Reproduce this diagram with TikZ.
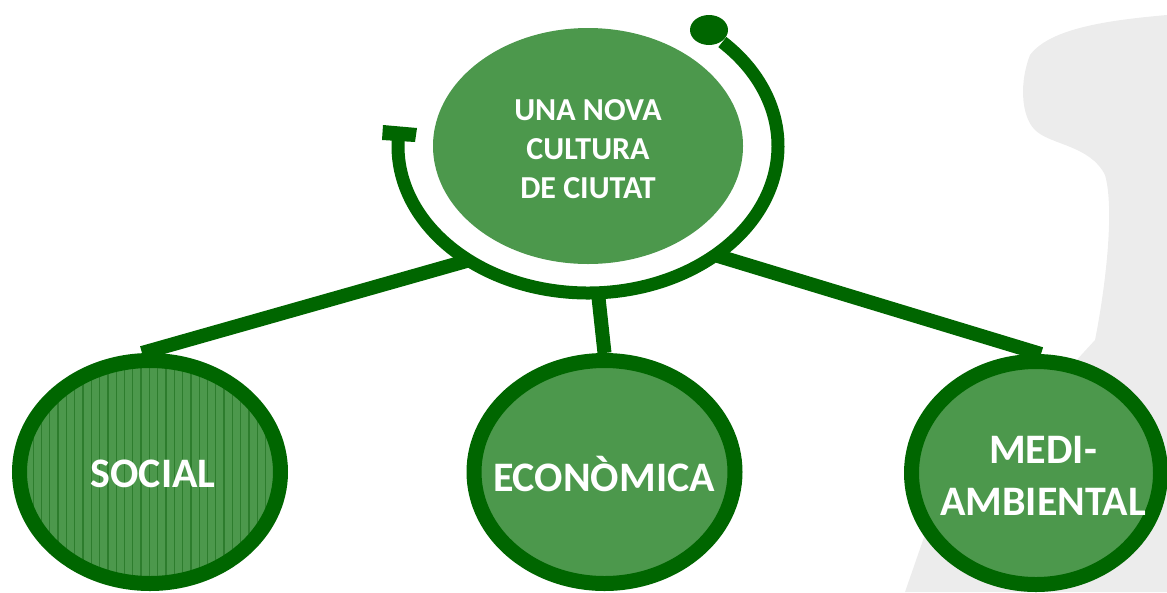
\documentclass[tikz,border=0pt]{standalone}
\usepackage{fontspec}
\setmainfont{Carlito}
\usetikzlibrary{shapes.geometric,backgrounds,patterns.meta}
\definecolor{dkgreen}{RGB}{0,102,0}
\definecolor{midgreen}{RGB}{76,152,76}
\definecolor{stripe}{RGB}{45,125,45}
\definecolor{silh}{RGB}{236,236,236}
\begin{document}
\begin{tikzpicture}[x=1pt,y=1pt,
  lbl/.style={text=white,font=\bfseries\fontsize{42}{52}\selectfont,align=center,inner sep=0pt},
  leaf/.style={ellipse,draw=dkgreen,line width=15pt,preaction={fill=midgreen},minimum width=261pt,minimum height=223pt,inner sep=0pt},
  conn/.style={draw=dkgreen,line width=14pt},
  ring/.style={draw=dkgreen,line width=13pt}]
\useasboundingbox (0,0) rectangle (1167,-592);

\node[ellipse,fill=midgreen,minimum width=310pt,minimum height=236pt,inner sep=0pt] (top) at (588,-146) {};
\node[text=white,font=\bfseries\fontsize{32}{39}\selectfont,align=center] (toplbl) at (588,-149)
      {UNA NOVA\\CULTURA\\DE CIUTAT};

\node[leaf,preaction={pattern={Lines[angle=90,distance=8.3pt,line width=1.3pt]},pattern color=stripe}] (social) at (150,-472) {};
\node[lbl] (sociallbl) at (153,-474) {SOCIAL};
\node[leaf] (econ) at (604.5,-472) {};
\node[lbl] (econlbl) at (604,-474) {ECON\`OMICA};
\node[leaf,minimum width=249pt] (medi) at (1036,-473) {};
\node[lbl] (medilbl) at (1043,-476) {MEDI-\\AMBIENTAL};

\begin{pgfonlayer}{background}
  \fill[silh] (1167,-15) .. controls (1110,-20) and (1050,-28) .. (1030,-55)
    .. controls (1020,-80) and (1020,-115) .. (1035,-130)
    .. controls (1050,-145) and (1090,-145) .. (1105,-175)
    .. controls (1115,-210) and (1105,-290) .. (1095,-340)
    -- (930,-520) -- (905,-592) -- (1167,-592) -- cycle;
  \coordinate (jl) at (470,-260);
  \coordinate (jm) at (598,-293);
  \coordinate (jr) at (718,-256);
  \draw[conn] (jl) -- ([xshift=-8pt]social.north);
  \draw[conn] (jm) -- (econ.north);
  \draw[conn] (jr) -- ([xshift=5pt]medi.north);
\end{pgfonlayer}

\draw[ring] (top.center) ++(175:190pt and 147pt)
  arc[start angle=175,end angle=405,x radius=190pt,y radius=147pt];
\fill[dkgreen] (709,-30) ellipse [x radius=19pt,y radius=15pt];
\fill[dkgreen] (383,-125) -- (417,-128) -- (415,-142) -- (382,-140) -- cycle;
\end{tikzpicture}
\end{document}
